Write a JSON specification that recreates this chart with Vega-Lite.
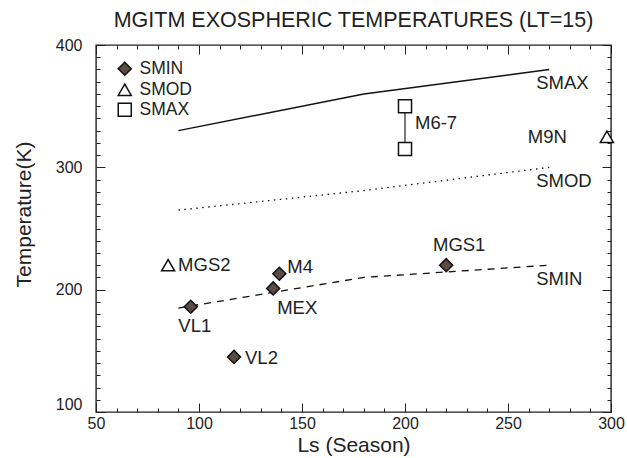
{
  "$schema": "https://vega.github.io/schema/vega-lite/v6.json",
  "width": 515,
  "height": 367,
  "autosize": {"type": "none"},
  "padding": {"left": 96, "top": 45, "right": 16, "bottom": 46},
  "title": {"text": "MGITM EXOSPHERIC TEMPERATURES (LT=15)", "font": "Liberation Sans", "fontSize": 21.5, "fontWeight": "normal", "color": "#222222", "anchor": "middle", "offset": 6},
  "config": {
    "view": {"stroke": "#222222", "strokeWidth": 1.4},
    "axis": {"grid": false}
  },
  "datasets": {
    "curves": [
      {"curve": "SMAX", "ls": 90, "t": 330},
      {"curve": "SMAX", "ls": 180, "t": 360},
      {"curve": "SMAX", "ls": 270, "t": 380},
      {"curve": "SMOD", "ls": 90, "t": 265},
      {"curve": "SMOD", "ls": 180, "t": 281},
      {"curve": "SMOD", "ls": 270, "t": 300},
      {"curve": "SMIN", "ls": 90, "t": 185},
      {"curve": "SMIN", "ls": 180, "t": 210},
      {"curve": "SMIN", "ls": 270, "t": 220}
    ],
    "obs": [
      {"mission": "VL1", "type": "SMIN", "ls": 96, "t": 186},
      {"mission": "VL2", "type": "SMIN", "ls": 117, "t": 145},
      {"mission": "MEX", "type": "SMIN", "ls": 136, "t": 201},
      {"mission": "M4", "type": "SMIN", "ls": 139, "t": 213},
      {"mission": "MGS1", "type": "SMIN", "ls": 220, "t": 220},
      {"mission": "MGS2", "type": "SMOD", "ls": 85, "t": 220},
      {"mission": "M9N", "type": "SMOD", "ls": 298, "t": 325},
      {"mission": "M6-7", "type": "SMAX", "ls": 200, "t": 350},
      {"mission": "M6-7", "type": "SMAX", "ls": 200, "t": 315}
    ],
    "labels": [
      {"text": "VL1", "ls": 96, "t": 186},
      {"text": "VL2", "ls": 117, "t": 145},
      {"text": "MEX", "ls": 136, "t": 201},
      {"text": "M4", "ls": 139, "t": 213},
      {"text": "MGS1", "ls": 220, "t": 220},
      {"text": "MGS2", "ls": 85, "t": 220},
      {"text": "M9N", "ls": 298, "t": 325},
      {"text": "M6-7", "ls": 200, "t": 332.5},
      {"text": "SMAX", "ls": 270, "t": 380},
      {"text": "SMOD", "ls": 270, "t": 300},
      {"text": "SMIN", "ls": 270, "t": 220}
    ]
  },
  "resolve": {"axis": {"x": "independent", "y": "independent"}},
  "encoding": {
    "x": {"field": "ls", "type": "quantitative", "scale": {"domain": [50, 300], "nice": false, "zero": false}},
    "y": {"field": "t", "type": "quantitative", "scale": {"domain": [100, 400], "nice": false, "zero": false}}
  },
  "layer": [
    {
      "data": {"name": "curves"},
      "transform": [{"filter": "datum.curve === 'SMAX'"}],
      "mark": {"type": "line", "color": "#111111", "strokeWidth": 1.5},
      "encoding": {
        "x": {"field": "ls", "type": "quantitative", "title": "Ls (Season)", "axis": {"orient": "bottom", "values": [50, 100, 150, 200, 250, 300], "offset": -9, "ticks": true, "tickSize": 9, "tickColor": "#222222", "tickOpacity": 1, "zindex": 1, "domain": false, "labelFlush": false, "labelPadding": 3, "labelFont": "Liberation Sans", "labelFontSize": 16, "labelColor": "#222222", "titleFont": "Liberation Sans", "titleFontSize": 21, "titleFontWeight": "normal", "titleColor": "#222222", "titlePadding": 3}},
        "y": {"field": "t", "type": "quantitative", "title": "Temperature(K)", "axis": {"orient": "left", "values": [100, 200, 300, 400], "offset": -9, "ticks": true, "tickSize": 9, "tickColor": "#222222", "tickOpacity": 1, "zindex": 1, "domain": false, "labelFlush": false, "labelPadding": 14, "labelFont": "Liberation Sans", "labelFontSize": 16, "labelColor": "#222222", "labelBaseline": {"condition": {"test": "datum.value === 100", "value": "bottom"}, "value": "middle"}, "titleFont": "Liberation Sans", "titleFontSize": 21, "titleFontWeight": "normal", "titleColor": "#222222", "titleX": -81, "titleY": 169, "titleBaseline": "middle", "titleAngle": 270}}
      }
    },
    {
      "data": {"name": "curves"},
      "transform": [{"filter": "datum.curve === 'SMOD'"}],
      "mark": {"type": "line", "color": "#111111", "strokeWidth": 1.3, "strokeDash": [1.5, 4.5]},
      "encoding": {
        "x": {"field": "ls", "type": "quantitative", "axis": {"orient": "top", "title": null, "values": [50, 100, 150, 200, 250, 300], "offset": -9, "ticks": true, "tickSize": 9, "tickColor": "#222222", "tickOpacity": 1, "zindex": 1, "domain": false, "labels": false}},
        "y": {"field": "t", "type": "quantitative", "axis": {"orient": "right", "title": null, "values": [100, 200, 300, 400], "offset": -9, "ticks": true, "tickSize": 9, "tickColor": "#222222", "tickOpacity": 1, "zindex": 1, "domain": false, "labels": false}}
      }
    },
    {
      "data": {"name": "curves"},
      "transform": [{"filter": "datum.curve === 'SMIN'"}],
      "mark": {"type": "line", "color": "#111111", "strokeWidth": 1.3, "strokeDash": [7, 6]},
      "encoding": {
        "x": {"field": "ls", "type": "quantitative", "axis": {"orient": "bottom", "title": null, "values": [60,70,80,90,110,120,130,140,160,170,180,190,210,220,230,240,260,270,280,290], "offset": -4, "ticks": true, "tickSize": 4, "tickColor": "#222222", "tickOpacity": 1, "zindex": 1, "domain": false, "labels": false}},
        "y": {"field": "t", "type": "quantitative", "axis": {"orient": "left", "title": null, "values": [110,120,130,140,150,160,170,180,190,210,220,230,240,250,260,270,280,290,310,320,330,340,350,360,370,380,390], "offset": -4, "ticks": true, "tickSize": 4, "tickColor": "#222222", "tickOpacity": 1, "zindex": 1, "domain": false, "labels": false}}
      }
    },
    {
      "data": {"name": "obs"},
      "transform": [{"filter": "datum.mission === 'M6-7'"}],
      "mark": {"type": "line", "color": "#222222", "strokeWidth": 1.2},
      "encoding": {
        "x": {"field": "ls", "type": "quantitative", "axis": {"orient": "top", "title": null, "values": [60,70,80,90,110,120,130,140,160,170,180,190,210,220,230,240,260,270,280,290], "offset": -4, "ticks": true, "tickSize": 4, "tickColor": "#222222", "tickOpacity": 1, "zindex": 1, "domain": false, "labels": false}},
        "y": {"field": "t", "type": "quantitative", "axis": {"orient": "right", "title": null, "values": [110,120,130,140,150,160,170,180,190,210,220,230,240,250,260,270,280,290,310,320,330,340,350,360,370,380,390], "offset": -4, "ticks": true, "tickSize": 4, "tickColor": "#222222", "tickOpacity": 1, "zindex": 1, "domain": false, "labels": false}}
      }
    },
    {
      "data": {"name": "obs"},
      "mark": {"type": "point", "filled": true, "stroke": "#111111", "strokeWidth": 1.5, "size": 170, "opacity": 1},
      "encoding": {
        "x": {"field": "ls", "type": "quantitative", "axis": null},
        "y": {"field": "t", "type": "quantitative", "axis": null},
        "shape": {"field": "type", "type": "nominal", "scale": {"domain": ["SMIN", "SMOD", "SMAX"], "range": ["diamond", "triangle-up", "square"]}, "legend": {"title": null, "orient": "none", "legendX": 20, "legendY": 15, "labelFont": "Liberation Sans", "labelFontSize": 17.5, "labelColor": "#222222", "symbolSize": 170, "rowPadding": 1, "labelOffset": 6, "encode": {"symbols": {"update": {"stroke": {"value": "#111111"}, "strokeWidth": {"value": 1.5}}}}}},
        "fill": {"field": "type", "type": "nominal", "scale": {"domain": ["SMIN", "SMOD", "SMAX"], "range": ["#5a4b43", "#ffffff", "#ffffff"]}, "legend": {"title": null, "orient": "none", "legendX": 20, "legendY": 15, "labelFont": "Liberation Sans", "labelFontSize": 17.5, "labelColor": "#222222", "symbolSize": 170, "rowPadding": 1, "labelOffset": 6, "encode": {"symbols": {"update": {"stroke": {"value": "#111111"}, "strokeWidth": {"value": 1.5}}}}}}
      }
    },
    {"data": {"name": "labels"}, "transform": [{"filter": "datum.text === 'VL1'"}], "mark": {"type": "text", "font": "Liberation Sans", "fontSize": 18.5, "color": "#222222", "align": "center", "baseline": "middle", "dx": 4, "dy": 19}, "encoding": {"x": {"field": "ls", "type": "quantitative", "axis": null}, "y": {"field": "t", "type": "quantitative", "axis": null}, "text": {"field": "text"}}},
    {"data": {"name": "labels"}, "transform": [{"filter": "datum.text === 'VL2'"}], "mark": {"type": "text", "font": "Liberation Sans", "fontSize": 18.5, "color": "#222222", "align": "left", "baseline": "middle", "dx": 11, "dy": 1}, "encoding": {"x": {"field": "ls", "type": "quantitative", "axis": null}, "y": {"field": "t", "type": "quantitative", "axis": null}, "text": {"field": "text"}}},
    {"data": {"name": "labels"}, "transform": [{"filter": "datum.text === 'MEX'"}], "mark": {"type": "text", "font": "Liberation Sans", "fontSize": 18.5, "color": "#222222", "align": "left", "baseline": "middle", "dx": 4, "dy": 20}, "encoding": {"x": {"field": "ls", "type": "quantitative", "axis": null}, "y": {"field": "t", "type": "quantitative", "axis": null}, "text": {"field": "text"}}},
    {"data": {"name": "labels"}, "transform": [{"filter": "datum.text === 'M4'"}], "mark": {"type": "text", "font": "Liberation Sans", "fontSize": 18.5, "color": "#222222", "align": "left", "baseline": "middle", "dx": 8, "dy": -7}, "encoding": {"x": {"field": "ls", "type": "quantitative", "axis": null}, "y": {"field": "t", "type": "quantitative", "axis": null}, "text": {"field": "text"}}},
    {"data": {"name": "labels"}, "transform": [{"filter": "datum.text === 'MGS1'"}], "mark": {"type": "text", "font": "Liberation Sans", "fontSize": 18.5, "color": "#222222", "align": "center", "baseline": "middle", "dx": 13, "dy": -20}, "encoding": {"x": {"field": "ls", "type": "quantitative", "axis": null}, "y": {"field": "t", "type": "quantitative", "axis": null}, "text": {"field": "text"}}},
    {"data": {"name": "labels"}, "transform": [{"filter": "datum.text === 'MGS2'"}], "mark": {"type": "text", "font": "Liberation Sans", "fontSize": 18.5, "color": "#222222", "align": "left", "baseline": "middle", "dx": 10, "dy": 0}, "encoding": {"x": {"field": "ls", "type": "quantitative", "axis": null}, "y": {"field": "t", "type": "quantitative", "axis": null}, "text": {"field": "text"}}},
    {"data": {"name": "labels"}, "transform": [{"filter": "datum.text === 'M9N'"}], "mark": {"type": "text", "font": "Liberation Sans", "fontSize": 18.5, "color": "#222222", "align": "right", "baseline": "middle", "dx": -40, "dy": 0}, "encoding": {"x": {"field": "ls", "type": "quantitative", "axis": null}, "y": {"field": "t", "type": "quantitative", "axis": null}, "text": {"field": "text"}}},
    {"data": {"name": "labels"}, "transform": [{"filter": "datum.text === 'M6-7'"}], "mark": {"type": "text", "font": "Liberation Sans", "fontSize": 18.5, "color": "#222222", "align": "left", "baseline": "middle", "dx": 10, "dy": -5}, "encoding": {"x": {"field": "ls", "type": "quantitative", "axis": null}, "y": {"field": "t", "type": "quantitative", "axis": null}, "text": {"field": "text"}}},
    {"data": {"name": "labels"}, "transform": [{"filter": "datum.text === 'SMAX' || datum.text === 'SMOD' || datum.text === 'SMIN'"}], "mark": {"type": "text", "font": "Liberation Sans", "fontSize": 18.5, "color": "#222222", "align": "left", "baseline": "middle", "dx": -13, "dy": 14}, "encoding": {"x": {"field": "ls", "type": "quantitative", "axis": null}, "y": {"field": "t", "type": "quantitative", "axis": null}, "text": {"field": "text"}}}
  ]
}
